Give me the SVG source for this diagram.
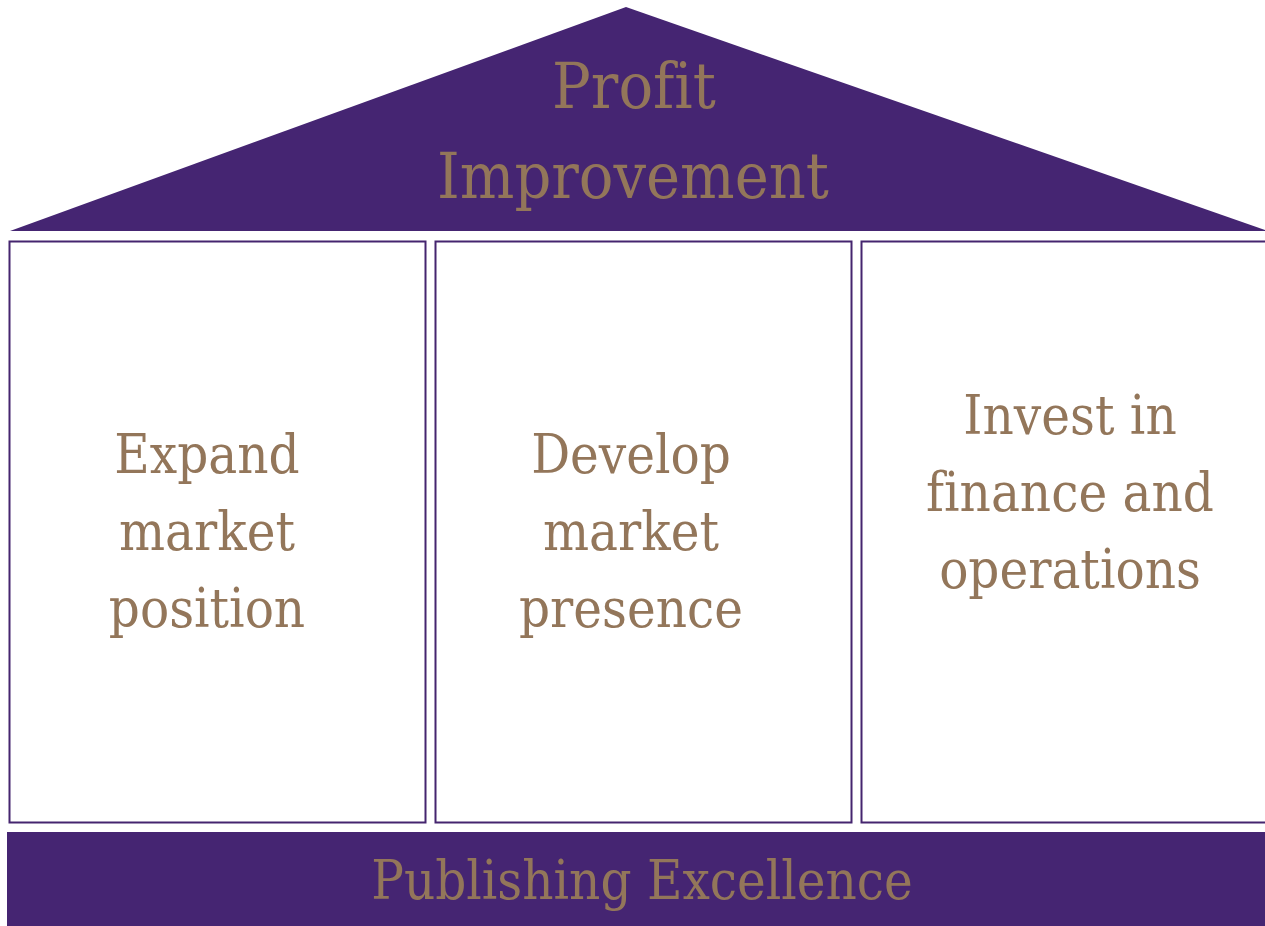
<svg xmlns="http://www.w3.org/2000/svg" width="1265" height="926" viewBox="0 0 1265 926">
<style>
.t{font-family:"DejaVu Serif Condensed","DejaVu Serif","Liberation Serif",serif;font-stretch:condensed;font-size:54px;fill:#93765a;text-anchor:middle;font-variant-ligatures:none}
.h{font-size:64px}
.box{fill:#ffffff;stroke:#45256f;stroke-width:2}
.dark{fill:#452572}
</style>
<g id="roof">
<polygon class="dark" points="626,7 1268,231 10,231"/>
<text class="t h" x="634" y="108">Profit</text>
<text class="t h" x="633" y="198">Improvement</text>
</g>
<g id="pillar1">
<rect class="box" x="9.5" y="241.5" width="416" height="581"/>
<text class="t" x="207" y="473">Expand</text>
<text class="t" x="207" y="550">market</text>
<text class="t" x="207" y="627">position</text>
</g>
<g id="pillar2">
<rect class="box" x="435.5" y="241.5" width="416" height="581"/>
<text class="t" x="631" y="473">Develop</text>
<text class="t" x="631" y="550">market</text>
<text class="t" x="631" y="627">presence</text>
</g>
<g id="pillar3">
<rect class="box" x="861.5" y="241.5" width="416" height="581"/>
<text class="t" x="1070" y="434">Invest in</text>
<text class="t" x="1070" y="511">finance and</text>
<text class="t" x="1070" y="588">operations</text>
</g>
<g id="foundation">
<rect class="dark" x="7" y="832" width="1265" height="94"/>
<text class="t" x="642" y="899">Publishing Excellence</text>
</g>
<g id="connectors"/>
</svg>
